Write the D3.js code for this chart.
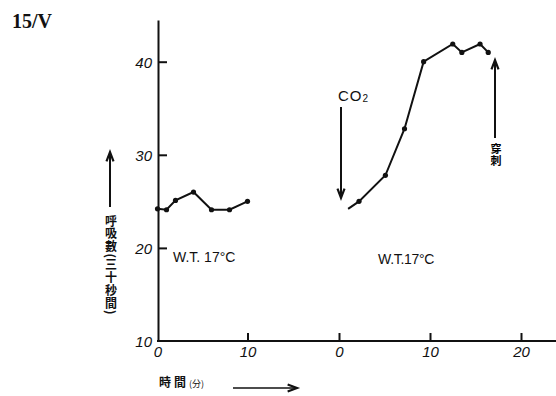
<!DOCTYPE html>
<html>
<head>
<meta charset="utf-8">
<script src="https://cdn.jsdelivr.net/npm/d3@7"></script>
<style>
  html, body { margin: 0; padding: 0; background: #fff; }
  svg { display: block; }
</style>
</head>
<body>
<svg id="chart" width="556" height="396"></svg>
<script>
// Breathing rate (per 30 s) against time, before and after CO2 is added.
const beforeMinutes = [0, 1, 2, 4, 6, 8, 10];
const beforeRate    = [24.2, 24.1, 25.1, 26.0, 24.1, 24.1, 25.0];
const afterMinutes  = [1.0, 2.2, 5.1, 7.2, 9.3, 12.5, 13.5, 15.5, 16.4];
const afterRate     = [24.2, 25.0, 27.8, 32.8, 40.0, 41.9, 41.0, 41.9, 41.0];
const afterDotted   = [false, true, true, true, true, true, true, true, true];
const yTicks        = [10, 20, 30, 40];
const beforeTicks   = [0, 10];
const afterTicks    = [0, 10, 20];
const yCaption      = "呼吸數(三十秒間)";
const punctureNote  = "穿刺";

const svg = d3.select("#chart");
const ink = "#111";
const cjk = "'Noto Sans CJK JP', 'Noto Sans CJK TC', sans-serif";
const digitFont = "'Liberation Sans Narrow', 'Liberation Sans', sans-serif";

const y = d3.scaleLinear().domain([10, 44.48]).range([341, 20]);
const xBefore = d3.scaleLinear().domain([0, 10]).range([157.5, 247.5]);
const xAfter = d3.scaleLinear().domain([0, 20]).range([339, 521]);
const axisY = 341, axisX = 158;

// straight arrow with an open V head at (x2, y2)
function arrow(x1, y1, x2, y2, w) {
  svg.append("line").attr("x1", x1).attr("y1", y1).attr("x2", x2).attr("y2", y2)
    .attr("stroke", ink).attr("stroke-width", w);
  const a = Math.atan2(y2 - y1, x2 - x1), len = 10, spread = 0.36;
  const p = [
    [x2 - len * Math.cos(a - spread), y2 - len * Math.sin(a - spread)],
    [x2, y2],
    [x2 - len * Math.cos(a + spread), y2 - len * Math.sin(a + spread)]
  ];
  svg.append("path").attr("d", d3.line()(p))
    .attr("fill", "none").attr("stroke", ink).attr("stroke-width", 2.2)
    .attr("stroke-linejoin", "miter");
}

// title
svg.append("text").attr("x", 12).attr("y", 28)
  .attr("font-family", "'Liberation Serif', serif").attr("font-weight", "bold")
  .attr("font-size", 20).attr("fill", ink).text("15/V");

// y axis
const yAxis = svg.append("g").attr("transform", `translate(${axisX},0)`)
  .call(d3.axisLeft(y).tickValues(yTicks).tickSizeInner(-9).tickSizeOuter(0).tickPadding(6)
        .tickFormat(d3.format("d")));
yAxis.select(".domain").attr("stroke", ink).attr("stroke-width", 2);
yAxis.selectAll(".tick line").attr("stroke", ink).attr("stroke-width", 2)
  .filter(d => d === 10).remove();
yAxis.selectAll(".tick text").attr("font-family", digitFont).attr("font-style", "italic")
  .attr("font-size", 15).attr("fill", ink).attr("dy", "0.38em");

// x axis: one continuous baseline carrying both time scales
svg.append("line").attr("x1", 157).attr("x2", 556).attr("y1", axisY).attr("y2", axisY)
  .attr("stroke", ink).attr("stroke-width", 2);
[[xBefore, beforeTicks], [xAfter, afterTicks]].forEach(([sc, tv]) => {
  const g = svg.append("g").attr("transform", `translate(0,${axisY})`)
    .call(d3.axisBottom(sc).tickValues(tv).tickSizeInner(-8).tickSizeOuter(0).tickPadding(5));
  g.select(".domain").remove();
  g.selectAll(".tick line").attr("stroke", ink).attr("stroke-width", 2)
    .filter(d => d === 0 && sc === xBefore).remove();
  g.selectAll(".tick text").attr("font-family", digitFont).attr("font-style", "italic")
    .attr("font-size", 15).attr("fill", ink);
});

// data lines
const lineBefore = d3.line().x(d => xBefore(d[0])).y(d => y(d[1]));
const lineAfter = d3.line().x(d => xAfter(d[0])).y(d => y(d[1]));
const before = beforeMinutes.map((m, i) => [m, beforeRate[i]]);
const after = afterMinutes.map((m, i) => [m, afterRate[i], afterDotted[i]]);

svg.append("path").datum(before).attr("d", lineBefore)
  .attr("fill", "none").attr("stroke", ink).attr("stroke-width", 2);
svg.append("path").datum(after).attr("d", lineAfter)
  .attr("fill", "none").attr("stroke", ink).attr("stroke-width", 2);
svg.selectAll("circle.b").data(before).join("circle").attr("class", "b")
  .attr("cx", d => xBefore(d[0])).attr("cy", d => y(d[1])).attr("r", 2.6).attr("fill", ink);
svg.selectAll("circle.a").data(after.filter(d => d[2])).join("circle").attr("class", "a")
  .attr("cx", d => xAfter(d[0])).attr("cy", d => y(d[1])).attr("r", 2.6).attr("fill", ink);

// water temperature notes
svg.append("text").attr("x", 173).attr("y", 262)
  .attr("font-family", "'Liberation Sans', sans-serif").attr("font-size", 14)
  .attr("fill", ink).text("W.T. 17°C");
svg.append("text").attr("x", 378).attr("y", 264)
  .attr("font-family", "'Liberation Sans', sans-serif").attr("font-size", 14)
  .attr("letter-spacing", -0.3).attr("fill", ink).text("W.T.17°C");

// CO2 added
const co2 = svg.append("text").attr("x", 338).attr("y", 101)
  .attr("font-family", "'Liberation Sans', sans-serif").attr("font-size", 15)
  .attr("letter-spacing", 1).attr("fill", ink);
co2.append("tspan").text("CO");
co2.append("tspan").attr("font-size", 10).attr("dy", 1).text("2");
arrow(341, 107, 341, 198, 2);

// puncture mark
arrow(495, 138, 495, 60, 2);
svg.append("text").attr("x", 496).attr("y", 143)
  .style("writing-mode", "vertical-rl")
  .attr("font-family", cjk).attr("font-weight", "bold").attr("font-size", 11)
  .attr("letter-spacing", 1.5).attr("fill", "#000").text(punctureNote);

// y-axis caption: arrow and vertical text
arrow(110, 207, 110, 152, 2);
svg.append("text").attr("x", 111).attr("y", 215)
  .style("writing-mode", "vertical-rl")
  .attr("font-family", cjk).attr("font-weight", "bold").attr("font-size", 12)
  .attr("letter-spacing", 0.8).attr("fill", ink).text(yCaption);

// x-axis caption
const xl = svg.append("text").attr("x", 159).attr("y", 387)
  .attr("font-family", cjk).attr("font-weight", "bold").attr("font-size", 12).attr("fill", ink);
xl.append("tspan").text("時");
xl.append("tspan").attr("dx", 3).text("間");
xl.append("tspan").attr("dx", 3).attr("font-size", 9).attr("font-weight", "normal").text("(分)");
arrow(233, 388, 297, 388, 1.6);
</script>
</body>
</html>
